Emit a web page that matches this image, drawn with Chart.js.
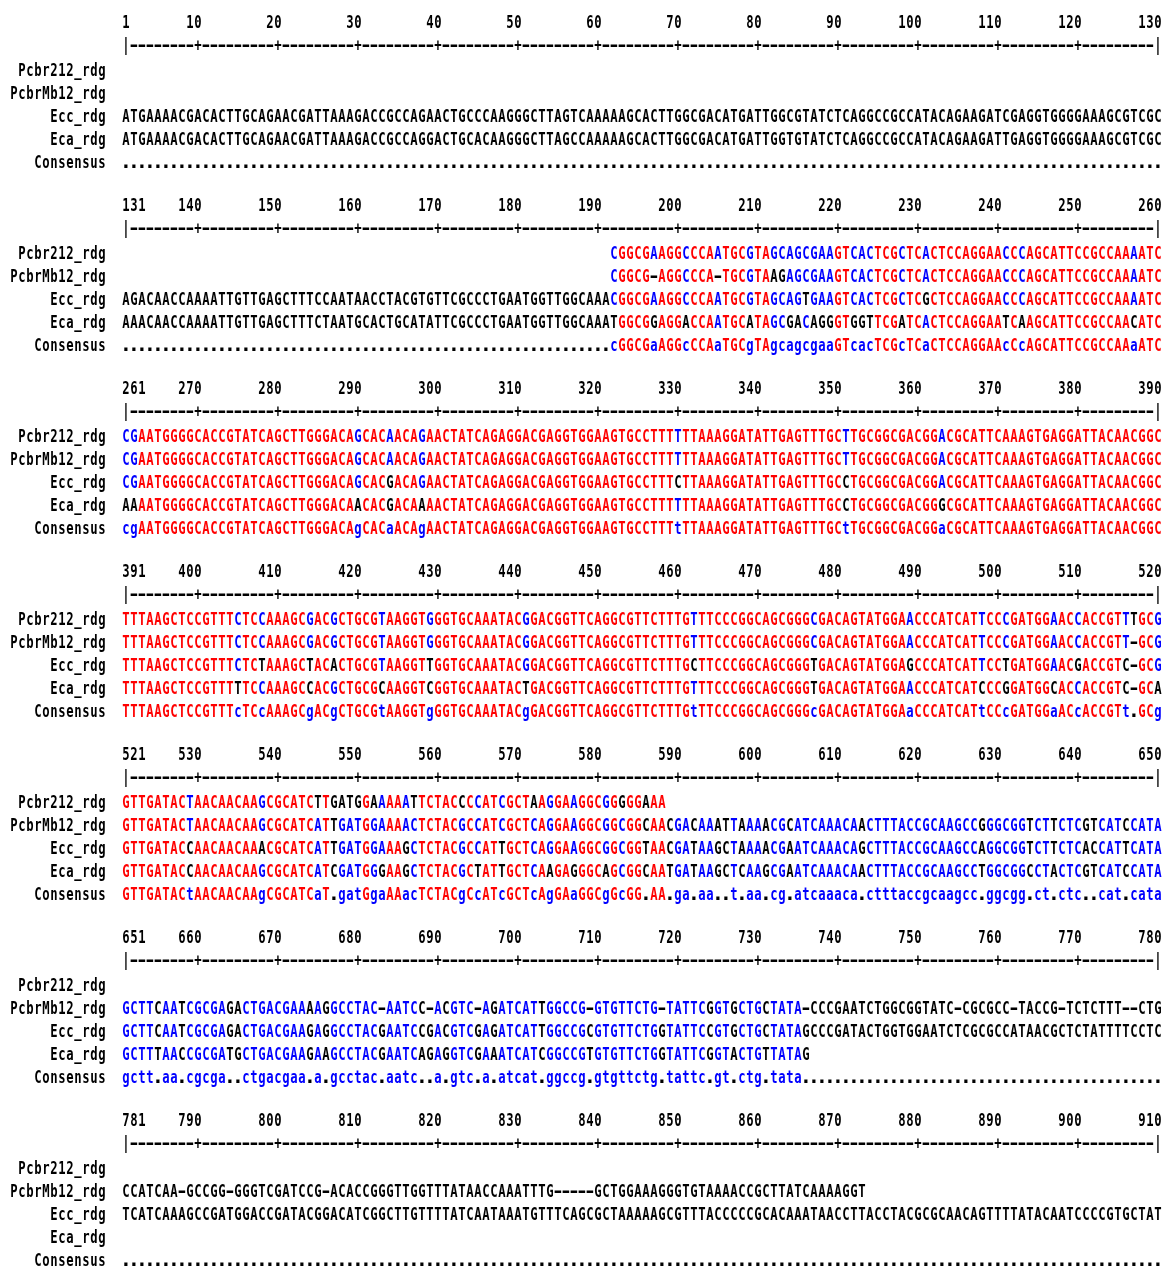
<!DOCTYPE html>
<html>
<head>
<meta charset="utf-8">
<title>Alignment</title>
<script src="https://cdn.jsdelivr.net/npm/chart.js@4.4.0/dist/chart.umd.min.js"></script>
<style>
  html, body { margin: 0; padding: 0; background: #fff; }
  #wrap { width: 1165px; height: 1269px; }
</style>
</head>
<body>
<div id="wrap"><canvas id="alignChart"></canvas></div>
<script>
// row names, block starts
var seqNames = ["Pcbr212_rdg", "PcbrMb12_rdg", "Ecc_rdg", "Eca_rdg", "Consensus"];
var blockStarts = [1, 131, 261, 391, 521, 651, 781];
var blockWidth = 130;

var lead2 = " ".repeat(61);       // Pcbr rows start at 192
var noCons = ".".repeat(130);

// one string per block of 130 columns
var pcbr212 = [
    "",
    lead2 + "CGGCGAAGGCCCAATGCGTAGCAGCGAAGTCACTCGCTCACTCCAGGAACCCAGCATTCCGCCAAAATC",
    "CGAATGGGGCACCGTATCAGCTTGGGACAGCACAACAGAACTATCAGAGGACGAGGTGGAAGTGCCTTTTTTAAAGGATATTGAGTTTGCTTGCGGCGACGGACGCATTCAAAGTGAGGATTACAACGGC",
    "TTTAAGCTCCGTTTCTCCAAAGCGACGCTGCGTAAGGTGGGTGCAAATACGGACGGTTCAGGCGTTCTTTGTTTCCCGGCAGCGGGCGACAGTATGGAACCCATCATTCCCGATGGAACCACCGTTTGCG",
    "GTTGATACTAACAACAAGCGCATCTTGATGGAAAAATTCTACCCCATCGCTAAGGAAGGCGGGGGAAA",
    "",
    ""
];
var pcbrMb12 = [
    "",
    lead2 + "CGGCG-AGGCCCA-TGCGTAAGAGCGAAGTCACTCGCTCACTCCAGGAACCCAGCATTCCGCCAAAATC",
    "CGAATGGGGCACCGTATCAGCTTGGGACAGCACAACAGAACTATCAGAGGACGAGGTGGAAGTGCCTTTTTTAAAGGATATTGAGTTTGCTTGCGGCGACGGACGCATTCAAAGTGAGGATTACAACGGC",
    "TTTAAGCTCCGTTTCTCCAAAGCGACGCTGCGTAAGGTGGGTGCAAATACGGACGGTTCAGGCGTTCTTTGTTTCCCGGCAGCGGGCGACAGTATGGAACCCATCATTCCCGATGGAACCACCGTT-GCG",
    "GTTGATACTAACAACAAGCGCATCATTGATGGAAAACTCTACGCCATCGCTCAGGAAGGCGGCGGCAACGACAAATTAAAACGCATCAAACAACTTTACCGCAAGCCGGGCGGTCTTCTCGTCATCCATA",
    "GCTTCAATCGCGAGACTGACGAAAAGGCCTAC-AATCC-ACGTC-AGATCATTGGCCG-GTGTTCTG-TATTCGGTGCTGCTATA-CCCGAATCTGGCGGTATC-CGCGCC-TACCG-TCTCTTT--CTG",
    "CCATCAA-GCCGG-GGGTCGATCCG-ACACCGGGTTGGTTTATAACCAAATTTG-----GCTGGAAAGGGTGTAAAACCGCTTATCAAAAGGT"
];
var ecc = [
    "ATGAAAACGACACTTGCAGAACGATTAAAGACCGCCAGAACTGCCCAAGGGCTTAGTCAAAAAGCACTTGGCGACATGATTGGCGTATCTCAGGCCGCCATACAGAAGATCGAGGTGGGGAAAGCGTCGC",
    "AGACAACCAAAATTGTTGAGCTTTCCAATAACCTACGTGTTCGCCCTGAATGGTTGGCAAACGGCGAAGGCCCAATGCGTAGCAGTGAAGTCACTCGCTCGCTCCAGGAACCCAGCATTCCGCCAAAATC",
    "CGAATGGGGCACCGTATCAGCTTGGGACAGCACGACAGAACTATCAGAGGACGAGGTGGAAGTGCCTTTCTTAAAGGATATTGAGTTTGCCTGCGGCGACGGACGCATTCAAAGTGAGGATTACAACGGC",
    "TTTAAGCTCCGTTTCTCTAAAGCTACACTGCGTAAGGTTGGTGCAAATACGGACGGTTCAGGCGTTCTTTGCTTCCCGGCAGCGGGTGACAGTATGGAGCCCATCATTCCTGATGGAACGACCGTC-GCG",
    "GTTGATACCAACAACAAACGCATCATTGATGGAAAGCTCTACGCCATTGCTCAGGAAGGCGGCGGTAACGATAAGCTAAAACGAATCAAACAGCTTTACCGCAAGCCAGGCGGTCTTCTCACCATTCATA",
    "GCTTCAATCGCGAGACTGACGAAGAGGCCTACGAATCCGACGTCGAGATCATTGGCCGCGTGTTCTGGTATTCCGTGCTGCTATAGCCCGATACTGGTGGAATCTCGCGCCATAACGCTCTATTTTCCTC",
    "TCATCAAAGCCGATGGACCGATACGGACATCGGCTTGTTTTATCAATAAATGTTTCAGCGCTAAAAAGCGTTTACCCCCGCACAAATAACCTTACCTACGCGCAACAGTTTTATACAATCCCCGTGCTAT"
];
var eca = [
    "ATGAAAACGACACTTGCAGAACGATTAAAGACCGCCAGGACTGCACAAGGGCTTAGCCAAAAAGCACTTGGCGACATGATTGGTGTATCTCAGGCCGCCATACAGAAGATTGAGGTGGGGAAAGCGTCGC",
    "AAACAACCAAAATTGTTGAGCTTTCTAATGCACTGCATATTCGCCCTGAATGGTTGGCAAATGGCGGAGGACCAATGCATAGCGACAGGGTGGTTCGATCACTCCAGGAATCAAGCATTCCGCCAACATC",
    "AAAATGGGGCACCGTATCAGCTTGGGACAACACGACAAAACTATCAGAGGACGAGGTGGAAGTGCCTTTTTTAAAGGATATTGAGTTTGCCTGCGGCGACGGGCGCATTCAAAGTGAGGATTACAACGGC",
    "TTTAAGCTCCGTTTTTCCAAAGCCACGCTGCGCAAGGTCGGTGCAAATACTGACGGTTCAGGCGTTCTTTGTTTCCCGGCAGCGGGTGACAGTATGGAACCCATCATCCCGGATGGCACCACCGTC-GCA",
    "GTTGATACCAACAACAAGCGCATCATCGATGGGAAGCTCTACGCTATTGCTCAAGAGGGCAGCGGCAATGATAAGCTCAAGCGAATCAAACAACTTTACCGCAAGCCTGGCGGCCTACTCGTCATCCATA",
    "GCTTTAACCGCGATGCTGACGAAGAAGCCTACGAATCAGAGGTCGAAATCATCGGCCGTGTGTTCTGGTATTCGGTACTGTTATAG",
    ""
];
var consensus = [
    noCons,
    ".".repeat(61) + "cGGCGaAGGcCCAaTGCgTAgcagcgaaGTcacTCGcTCaCTCCAGGAAcCcAGCATTCCGCCAAaATC",
    "cgAATGGGGCACCGTATCAGCTTGGGACAgCACaACAgAACTATCAGAGGACGAGGTGGAAGTGCCTTTtTTAAAGGATATTGAGTTTGCtTGCGGCGACGGaCGCATTCAAAGTGAGGATTACAACGGC",
    "TTTAAGCTCCGTTTcTCcAAAGCgACgCTGCGtAAGGTgGGTGCAAATACgGACGGTTCAGGCGTTCTTTGtTTCCCGGCAGCGGGcGACAGTATGGAaCCCATCATtCCcGATGGaACcACCGTt.GCg",
    "GTTGATACtAACAACAAgCGCATCaT.gatGgaAAacTCTACgCcATcGCTcAgGAaGGCgGcGG.AA.ga.aa..t.aa.cg.atcaaaca.ctttaccgcaagcc.ggcgg.ct.ctc..cat.cata",
    "gctt.aa.cgcga..ctgacgaa.a.gcctac.aatc..a.gtc.a.atcat.ggccg.gtgttctg.tattc.gt.ctg.tata" + ".".repeat(45),
    noCons
];

var sequences = [pcbr212, pcbrMb12, ecc, eca];

// vertical layout in row units (one block = 8 units)
var rowUnit = [0, 1, 2.1, 3.1, 4.1, 5.1, 6.1];
var RED = '#ff0000', BLUE = '#0000ff', BLACK = '#000000';

function consColor(c) {
    if (c === '.' || c === ' ') return BLACK;
    return c === c.toUpperCase() ? RED : BLUE;
}

function resColor(r, c) {
    if (!c || c === '.' || r === '-') return BLACK;
    if (r.toUpperCase() !== c.toUpperCase()) return BLACK;
    return consColor(c);
}

var numberPts = [], rulerPts = [], consPts = [];
var seqPts = [[], [], [], []];

blockStarts.forEach(function (start, b) {
    var yNum = b * 8 + rowUnit[0];
    numberPts.push({ x: 1, y: yNum, t: String(start), a: 'left' });
    for (var col = 10; col <= blockWidth; col += 10) {
        numberPts.push({ x: col, y: yNum, t: String(start + col - 1), a: 'right' });
    }
    for (var i = 1; i <= blockWidth; i++) {
        var ch = (i === 1 || i === blockWidth) ? '|' : (i % 10 === 0 ? '+' : '-');
        rulerPts.push({ x: i, y: b * 8 + rowUnit[1], t: ch, color: BLACK });
    }
    sequences.forEach(function (seq, s) {
        var str = seq[b];
        for (var j = 0; j < str.length; j++) {
            var r = str[j];
            if (r === ' ') continue;
            seqPts[s].push({ x: j + 1, y: b * 8 + rowUnit[2 + s], t: r, color: resColor(r, consensus[b][j]) });
        }
    });
    var cs = consensus[b];
    for (var k = 0; k < cs.length; k++) {
        consPts.push({ x: k + 1, y: b * 8 + rowUnit[6], t: cs[k], color: consColor(cs[k]) });
    }
});

var FONT = "bold 17px 'DejaVu Sans Mono'";
var SX = 0.72;

function drawText(ctx, text, x, y, align, color, pitch) {
    ctx.fillStyle = color || BLACK;
    for (var k = 0; k < text.length; k++) {
        var cx;
        if (align === 'right') cx = x - pitch * (text.length - 1 - k);
        else cx = x + pitch * k;
        var c = text[k];
        ctx.save();
        ctx.translate(cx, y + 6);
        // dashes and dots a bit wider, like the bitmap font
        if (c === '-') ctx.scale(1.25, 1);
        else if (c === '.') ctx.scale(1.15, 1.15);
        else ctx.scale(SX, 1);
        ctx.fillText(c, 0, 0);
        ctx.restore();
    }
}

var letterPlugin = {
    id: 'letters',
    afterDatasetsDraw: function (chart) {
        var ctx = chart.ctx;
        var xs = chart.scales.x, ys = chart.scales.y;
        var pitch = xs.getPixelForValue(1) - xs.getPixelForValue(0);
        ctx.save();
        ctx.font = FONT;
        ctx.textAlign = 'center';
        ctx.textBaseline = 'alphabetic';
        chart.data.datasets.forEach(function (ds, di) {
            var meta = chart.getDatasetMeta(di);
            meta.data.forEach(function (el, i) {
                var p = ds.data[i];
                drawText(ctx, p.t, el.x, el.y, p.a, p.color, pitch);
            });
        });
        // row names, right aligned left of column 1
        blockStarts.forEach(function (start, b) {
            seqNames.forEach(function (name, r) {
                drawText(ctx, name, xs.getPixelForValue(-2), ys.getPixelForValue(b * 8 + rowUnit[2 + r]), 'right', BLACK, pitch);
            });
        });
        ctx.restore();
    }
};

function ds(label, pts) {
    return { label: label, data: pts, pointRadius: 0, pointHoverRadius: 0, showLine: false };
}

var ctx = document.getElementById('alignChart').getContext('2d');
new Chart(ctx, {
    type: 'scatter',
    data: {
        datasets: [
            ds('numbers', numberPts),
            ds('ruler', rulerPts),
            ds(seqNames[0], seqPts[0]),
            ds(seqNames[1], seqPts[1]),
            ds(seqNames[2], seqPts[2]),
            ds(seqNames[3], seqPts[3]),
            ds(seqNames[4], consPts)
        ]
    },
    options: {
        responsive: true,
        maintainAspectRatio: false,
        animation: false,
        events: [],
        layout: { padding: { left: 116, right: 0, top: 0, bottom: 0 } },
        scales: {
            x: { type: 'linear', min: -0.25, max: 130.875, display: false },
            y: { type: 'linear', reverse: true, min: -0.9617, max: 54.513, display: false }
        },
        plugins: {
            legend: { display: false },
            tooltip: { enabled: false }
        }
    },
    plugins: [letterPlugin]
});
</script>
</body>
</html>
